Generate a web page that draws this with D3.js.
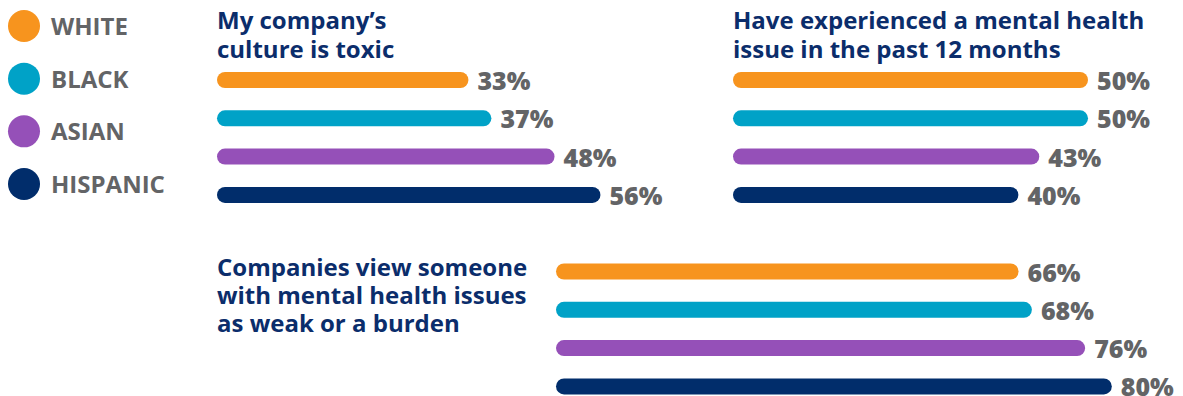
<!DOCTYPE html>
<html>
<head>
<meta charset="utf-8">
<script src="https://cdn.jsdelivr.net/npm/d3@7"></script>
<style>
  html, body { margin: 0; padding: 0; background: #ffffff; }
  svg { display: block; }
</style>
</head>
<body>
<svg id="chart" width="1183" height="396"></svg>
<script>
// ---- data ----
const groups = ["WHITE", "BLACK", "ASIAN", "HISPANIC"];
const groupColors = ["#F7941E", "#00A2C7", "#9550B8", "#012D6B"];
const toxicValues = [33, 37, 48, 56];
const mentalIssueValues = [50, 50, 43, 40];
const weakBurdenValues = [66, 68, 76, 80];
const panelTitles = [
  ["My company\u2019s", "culture is toxic"],
  ["Have experienced a mental health", "issue in the past 12 months"],
  ["Companies view someone", "with mental health issues", "as weak or a burden"]
];

// ---- layout ----
const svg = d3.select("#chart");
const titleColor = "#0B2D6B";
const labelColor = "#636466";
const font = "'Open Sans', 'Noto Sans', sans-serif";

// legend
const legendY = d3.scalePoint().domain(groups).range([26, 184]);
const legend = svg.append("g");
legend.selectAll("circle").data(groups).join("circle")
  .attr("cx", 24).attr("cy", d => legendY(d)).attr("r", 16)
  .attr("fill", (d, i) => groupColors[i]);
legend.selectAll("text").data(groups).join("text")
  .attr("x", 51).attr("y", d => legendY(d) + 9)
  .attr("font-family", font).attr("font-weight", 700).attr("font-size", 24)
  .attr("fill", labelColor)
  .text(d => d);

const panels = [
  { values: toxicValues, title: panelTitles[0], x0: 217, titleY: 29, lineH: 29, barTop: 80, range: [62, 636] },
  { values: mentalIssueValues, title: panelTitles[1], x0: 733, titleY: 29, lineH: 28.5, barTop: 80, range: [7, 703] },
  { values: weakBurdenValues, title: panelTitles[2], x0: 556, titleX: 217, titleY: 276, lineH: 28, barTop: 271.5, range: [23, 689] }
];

panels.forEach(p => {
  const g = svg.append("g");
  const x = d3.scaleLinear().domain([0, 100]).range(p.range);
  const y = d3.scalePoint().domain(groups).range([p.barTop, p.barTop + 38.3 * 3]);
  const barH = 16;

  g.append("text")
    .attr("x", p.titleX !== undefined ? p.titleX : p.x0)
    .attr("y", p.titleY)
    .attr("font-family", font).attr("font-weight", 700).attr("font-size", 24)
    .attr("fill", titleColor)
    .selectAll("tspan").data(p.title).join("tspan")
    .attr("x", p.titleX !== undefined ? p.titleX : p.x0)
    .attr("dy", (d, i) => i === 0 ? 0 : p.lineH)
    .text(d => d);

  g.selectAll("rect").data(p.values).join("rect")
    .attr("x", p.x0)
    .attr("y", (d, i) => y(groups[i]) - barH / 2)
    .attr("width", d => x(d))
    .attr("height", barH)
    .attr("rx", barH / 2)
    .attr("fill", (d, i) => groupColors[i]);

  g.selectAll("text.val").data(p.values).join("text")
    .attr("class", "val")
    .attr("x", d => p.x0 + x(d) + 9)
    .attr("y", (d, i) => y(groups[i]) + 10)
    .attr("font-family", font).attr("font-weight", 800).attr("font-size", 25)
    .attr("fill", labelColor)
    .text(d => d + "%");
});
</script>
</body>
</html>
